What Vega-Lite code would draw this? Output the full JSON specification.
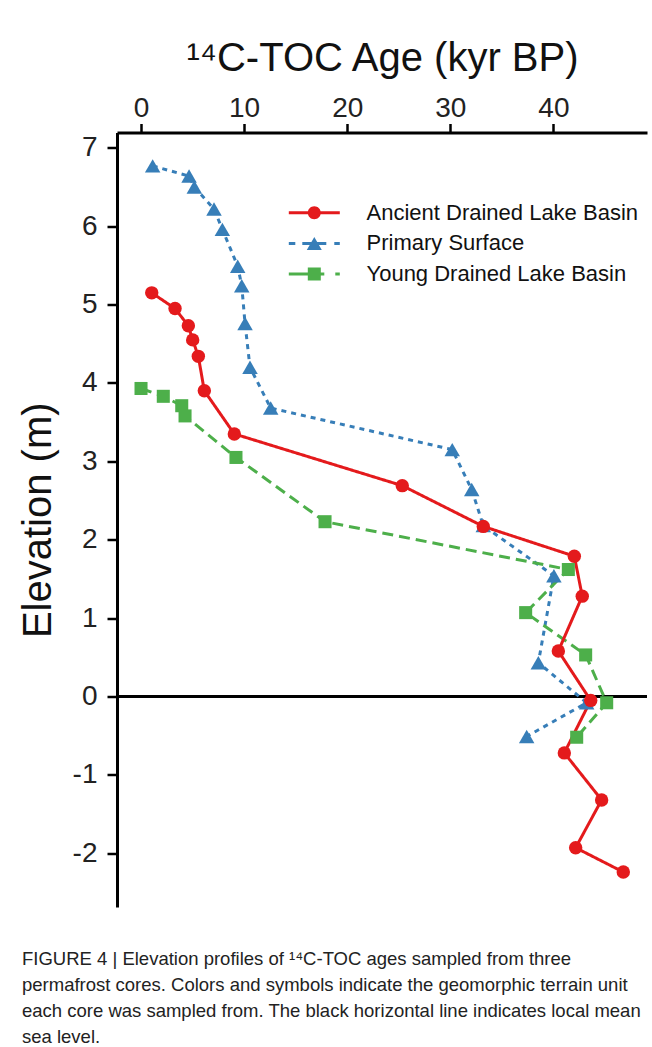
{
  "$schema": "https://vega.github.io/schema/vega-lite/v6.json",
  "autosize": {"type": "none"},
  "width": 530,
  "height": 774.5,
  "padding": {"left": 117, "top": 132.5, "right": 5, "bottom": 140},
  "background": "white",
  "config": {"view": {"stroke": null}, "font": "Liberation Sans"},
  "title": {
    "text": [
      "FIGURE 4 | Elevation profiles of ¹⁴C-TOC ages sampled from three",
      "permafrost cores. Colors and symbols indicate the geomorphic terrain unit",
      "each core was sampled from. The black horizontal line indicates local mean",
      "sea level."
    ],
    "orient": "bottom",
    "anchor": "start",
    "frame": "group",
    "dx": -95,
    "offset": 43,
    "fontSize": 18.5,
    "font": "Liberation Sans",
    "fontWeight": "normal",
    "color": "#222",
    "lineHeight": 26
  },
  "data": {
    "values": [
      {"terrain": "Primary Surface", "age": 1.13, "elevation": 6.77},
      {"terrain": "Primary Surface", "age": 4.66, "elevation": 6.64},
      {"terrain": "Primary Surface", "age": 5.17, "elevation": 6.5},
      {"terrain": "Primary Surface", "age": 7.08, "elevation": 6.22},
      {"terrain": "Primary Surface", "age": 7.89, "elevation": 5.96},
      {"terrain": "Primary Surface", "age": 9.38, "elevation": 5.49},
      {"terrain": "Primary Surface", "age": 9.77, "elevation": 5.24},
      {"terrain": "Primary Surface", "age": 10.09, "elevation": 4.76},
      {"terrain": "Primary Surface", "age": 10.57, "elevation": 4.2},
      {"terrain": "Primary Surface", "age": 12.58, "elevation": 3.68},
      {"terrain": "Primary Surface", "age": 30.19, "elevation": 3.15},
      {"terrain": "Primary Surface", "age": 32.08, "elevation": 2.64},
      {"terrain": "Primary Surface", "age": 33.2, "elevation": 2.18},
      {"terrain": "Primary Surface", "age": 40.05, "elevation": 1.54},
      {"terrain": "Primary Surface", "age": 38.54, "elevation": 0.43},
      {"terrain": "Primary Surface", "age": 43.23, "elevation": -0.08},
      {"terrain": "Primary Surface", "age": 37.41, "elevation": -0.51},
      {"terrain": "Young Drained Lake Basin", "age": 0.0, "elevation": 3.93},
      {"terrain": "Young Drained Lake Basin", "age": 2.16, "elevation": 3.83},
      {"terrain": "Young Drained Lake Basin", "age": 3.95, "elevation": 3.71},
      {"terrain": "Young Drained Lake Basin", "age": 4.27, "elevation": 3.58},
      {"terrain": "Young Drained Lake Basin", "age": 9.21, "elevation": 3.05},
      {"terrain": "Young Drained Lake Basin", "age": 17.85, "elevation": 2.23},
      {"terrain": "Young Drained Lake Basin", "age": 41.45, "elevation": 1.62},
      {"terrain": "Young Drained Lake Basin", "age": 37.31, "elevation": 1.07},
      {"terrain": "Young Drained Lake Basin", "age": 43.13, "elevation": 0.53},
      {"terrain": "Young Drained Lake Basin", "age": 45.17, "elevation": -0.08},
      {"terrain": "Young Drained Lake Basin", "age": 42.26, "elevation": -0.52},
      {"terrain": "Ancient Drained Lake Basin", "age": 1.04, "elevation": 5.15},
      {"terrain": "Ancient Drained Lake Basin", "age": 3.3, "elevation": 4.95},
      {"terrain": "Ancient Drained Lake Basin", "age": 4.59, "elevation": 4.73},
      {"terrain": "Ancient Drained Lake Basin", "age": 5.01, "elevation": 4.55},
      {"terrain": "Ancient Drained Lake Basin", "age": 5.56, "elevation": 4.34},
      {"terrain": "Ancient Drained Lake Basin", "age": 6.14, "elevation": 3.9},
      {"terrain": "Ancient Drained Lake Basin", "age": 9.05, "elevation": 3.35},
      {"terrain": "Ancient Drained Lake Basin", "age": 25.34, "elevation": 2.69},
      {"terrain": "Ancient Drained Lake Basin", "age": 33.2, "elevation": 2.17},
      {"terrain": "Ancient Drained Lake Basin", "age": 42.03, "elevation": 1.79},
      {"terrain": "Ancient Drained Lake Basin", "age": 42.8, "elevation": 1.28},
      {"terrain": "Ancient Drained Lake Basin", "age": 40.48, "elevation": 0.58},
      {"terrain": "Ancient Drained Lake Basin", "age": 43.62, "elevation": -0.05},
      {"terrain": "Ancient Drained Lake Basin", "age": 41.06, "elevation": -0.72},
      {"terrain": "Ancient Drained Lake Basin", "age": 44.68, "elevation": -1.32},
      {"terrain": "Ancient Drained Lake Basin", "age": 42.16, "elevation": -1.93},
      {"terrain": "Ancient Drained Lake Basin", "age": 46.78, "elevation": -2.24}
    ]
  },
  "encoding": {
    "x": {
      "field": "age",
      "type": "quantitative",
      "scale": {"domain": [-2.33, 49.08], "nice": false, "zero": false},
      "axis": {
        "orient": "top",
        "values": [0, 10, 20, 30, 40],
        "grid": false,
        "domainColor": "#000",
        "domainWidth": 3,
        "tickColor": "#000",
        "tickWidth": 2.5,
        "tickSize": 9,
        "labelFontSize": 28,
        "labelFont": "Liberation Sans",
        "labelColor": "#222",
        "labelPadding": 1,
        "labelFlush": false,
        "labelOverlap": false,
        "title": "¹⁴C-TOC Age (kyr BP)",
        "titleFontSize": 40,
        "titleFont": "Liberation Sans",
        "titleFontWeight": "normal",
        "titleColor": "#111",
        "titlePadding": 16
      }
    },
    "y": {
      "field": "elevation",
      "type": "quantitative",
      "scale": {"domain": [-2.686, 7.196], "nice": false, "zero": false},
      "axis": {
        "values": [-2, -1, 0, 1, 2, 3, 4, 5, 6, 7],
        "labelExpr": "'' + datum.value",
        "grid": false,
        "domainColor": "#000",
        "domainWidth": 3,
        "tickColor": "#000",
        "tickWidth": 2.5,
        "tickSize": 10,
        "labelFontSize": 28,
        "labelFont": "Liberation Sans",
        "labelColor": "#222",
        "labelPadding": 10,
        "labelFlush": false,
        "labelOverlap": false,
        "title": "Elevation (m)",
        "titleFontSize": 40,
        "titleFont": "Liberation Sans",
        "titleFontWeight": "normal",
        "titleColor": "#111",
        "titlePadding": 14
      }
    },
    "color": {
      "field": "terrain",
      "type": "nominal",
      "scale": {
        "domain": ["Ancient Drained Lake Basin", "Primary Surface", "Young Drained Lake Basin"],
        "range": ["#E41A1C", "#377EB8", "#4DAF4A"]
      },
      "legend": {
        "title": null,
        "orient": "none",
        "legendX": 171.8,
        "legendY": 69.2,
        "labelFontSize": 22,
        "labelFont": "Liberation Sans",
        "labelColor": "#111",
        "labelLimit": 500,
        "symbolSize": 484,
        "symbolStrokeWidth": 0,
        "symbolOffset": 14.5,
        "labelOffset": 41.2,
        "rowPadding": 8.7,
        "padding": 0,
        "encode": {
          "symbols": {
            "update": {
              "shape": {"signal": "datum.value === 'Ancient Drained Lake Basin' ? 'M-2.318,-0.136L2.318,-0.136L2.318,0.136L-2.318,0.136Z M0.591,0A0.591,0.591,0,1,1,-0.591,0A0.591,0.591,0,1,1,0.591,0Z' : datum.value === 'Primary Surface' ? 'M-2.318,-0.136L-1.727,-0.136L-1.727,0.136L-2.318,0.136Z M-1.091,-0.136L1.091,-0.136L1.091,0.136L-1.091,0.136Z M0,-0.591L0.682,0.591L-0.682,0.591Z M1.818,-0.136L2.318,-0.136L2.318,0.136L1.818,0.136Z' : 'M-2.318,-0.136L0.909,-0.136L0.909,0.136L-2.318,0.136Z M-0.591,-0.591L0.591,-0.591L0.591,0.591L-0.591,0.591Z M1.909,-0.136L2.318,-0.136L2.318,0.136L1.909,0.136Z'"},
              "fill": {"signal": "scale('color', datum.value)"},
              "fillOpacity": {"value": 1},
              "opacity": {"value": 1},
              "strokeWidth": {"value": 0},
              "size": {"value": 484}
            }
          }
        }
      }
    }
  },
  "layer": [
    {
      "data": {"values": [{"sea_level": 0}]},
      "mark": {"type": "rule", "color": "#000", "strokeWidth": 3},
      "encoding": {
        "x": null,
        "color": null,
        "y": {"field": "sea_level", "type": "quantitative"}
      }
    },
    {
      "mark": {"type": "line", "strokeWidth": 3},
      "encoding": {
        "order": {"field": "elevation", "sort": "descending"},
        "strokeDash": {
          "field": "terrain",
          "type": "nominal",
          "scale": {
            "domain": ["Ancient Drained Lake Basin", "Primary Surface", "Young Drained Lake Basin"],
            "range": [[1, 0], [5, 5], [11, 6]]
          },
          "legend": null
        }
      }
    },
    {
      "transform": [{"filter": "datum.terrain === 'Primary Surface'"}],
      "mark": {"type": "point", "shape": "triangle-up", "filled": true, "opacity": 1, "size": 240}
    },
    {
      "transform": [{"filter": "datum.terrain === 'Young Drained Lake Basin'"}],
      "mark": {"type": "point", "shape": "square", "filled": true, "opacity": 1, "size": 170}
    },
    {
      "transform": [{"filter": "datum.terrain === 'Ancient Drained Lake Basin'"}],
      "mark": {"type": "point", "shape": "circle", "filled": true, "opacity": 1, "size": 180}
    }
  ]
}
